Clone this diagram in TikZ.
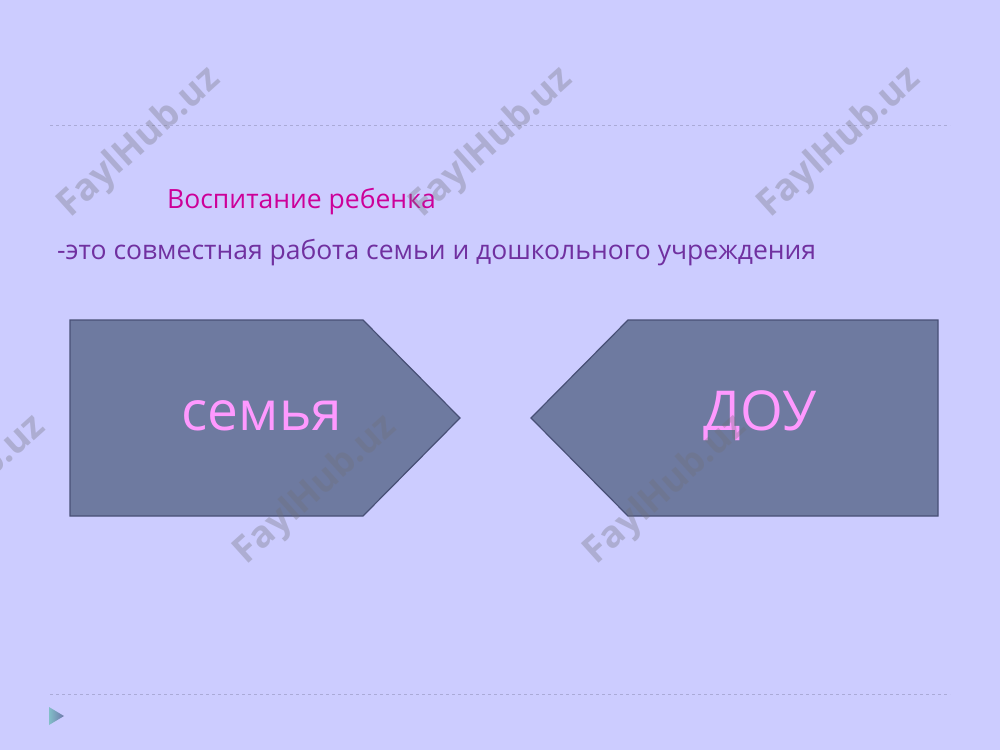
\documentclass[tikz,border=0pt]{standalone}
\usepackage{fontspec}
\setmainfont{Open Sans}
\newfontfamily\wmfont{Open Sans}
\begin{document}
\begin{tikzpicture}[x=1pt,y=-1pt,
  bg/.style={fill={rgb,255:red,204;green,204;blue,255}},
  arrowbox/.style={fill={rgb,255:red,110;green,122;blue,160},draw={rgb,255:red,72;green,80;blue,118},line width=1.2pt,line join=miter},
  sep/.style={draw={rgb,255:red,170;green,170;blue,215},dash pattern=on 3pt off 3pt,line width=0.8pt},
  wm/.style={font=\wmfont\bfseries\fontsize{37}{37}\selectfont,text={rgb,255:red,112;green,112;blue,120},opacity=0.33,rotate=42,inner sep=0},
  boxlabel/.style={font=\fontsize{55}{55}\selectfont,text={rgb,255:red,255;green,153;blue,255},inner sep=0}]
\path[bg] (0,0) rectangle (1000,750);
\useasboundingbox (0,0) rectangle (1000,750);
% separators
\coordinate (s1a) at (50,125); \coordinate (s1b) at (950,125);
\coordinate (s2a) at (50,694); \coordinate (s2b) at (950,694);
\draw[sep] (s1a) -- (s1b);
\draw[sep] (s2a) -- (s2b);
% texts
\node[anchor=base west,inner sep=0,font=\fontsize{26.5}{26.5}\selectfont,text={rgb,255:red,204;green,0;blue,153}] (title) at (167,208) {Воспитание ребенка};
\node[anchor=base west,inner sep=0,font=\fontsize{26.5}{26.5}\selectfont,text={rgb,255:red,112;green,48;blue,160}] (sub) at (57,259) {-это совместная работа семьи и дошкольного учреждения};
% shapes
\coordinate (l1) at (70,320); \coordinate (l2) at (363,320); \coordinate (l3) at (460,418);
\coordinate (l4) at (363,516); \coordinate (l5) at (70,516);
\draw[arrowbox] (l1) -- (l2) -- (l3) -- (l4) -- (l5) -- cycle;
\coordinate (r1) at (938,320); \coordinate (r2) at (628,320); \coordinate (r3) at (531,418);
\coordinate (r4) at (628,516); \coordinate (r5) at (938,516);
\draw[arrowbox] (r1) -- (r2) -- (r3) -- (r4) -- (r5) -- cycle;
\node[boxlabel,anchor=base] (fam) at (262,430) {семья};
\node[boxlabel,anchor=base] (dou) at (760,430) {ДОУ};
% watermarks
\node[wm] (w1) at (140,143) {FaylHub.uz};
\node[wm] (w2) at (492,143) {FaylHub.uz};
\node[wm] (w3) at (840,143) {FaylHub.uz};
\node[wm] (w4) at (-35,490) {FaylHub.uz};
\node[wm] (w5) at (316,490) {FaylHub.uz};
\node[wm] (w6) at (666,490) {FaylHub.uz};
% play triangle
\coordinate (t1) at (49,707); \coordinate (t2) at (64,716); \coordinate (t3) at (49,725);
\shade[left color={rgb,255:red,130;green,190;blue,200},right color={rgb,255:red,110;green,120;blue,170}] (t1) -- (t2) -- (t3) -- cycle;
\end{tikzpicture}
\end{document}
